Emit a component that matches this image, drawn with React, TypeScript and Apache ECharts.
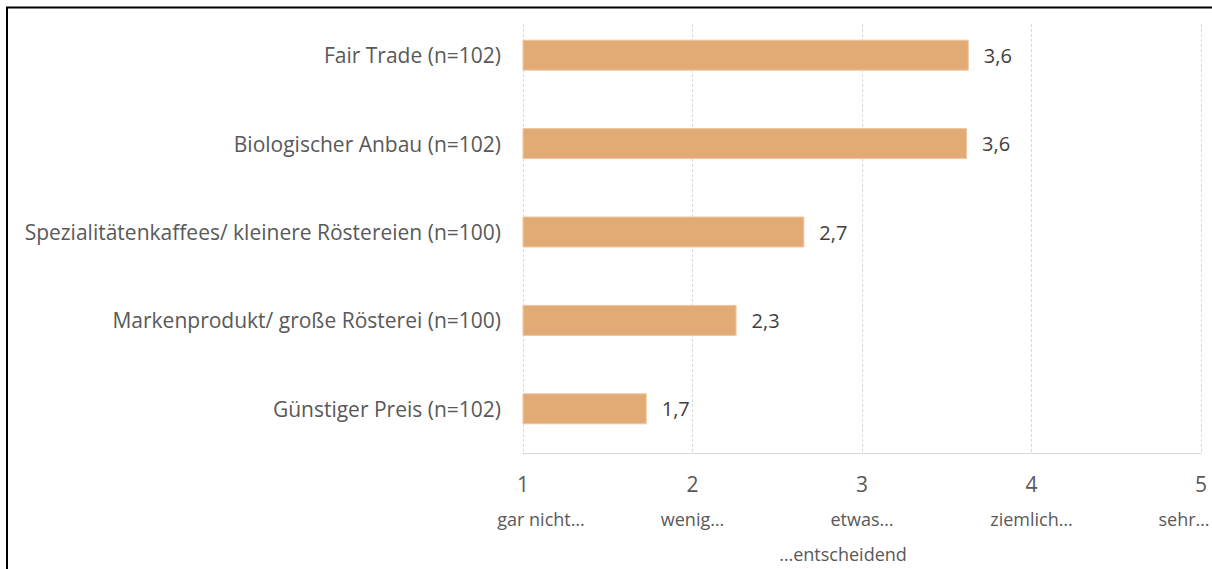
import React, { useEffect, useRef } from "react";
import * as echarts from "echarts";

const categories = [
  "Fair Trade (n=102)",
  "Biologischer Anbau (n=102)",
  "Spezialitätenkaffees/ kleinere Röstereien (n=100)",
  "Markenprodukt/ große Rösterei (n=100)",
  "Günstiger Preis (n=102)",
];
const values = [3.63, 3.62, 2.66, 2.26, 1.73];
const tickNumbers = [1, 2, 3, 4, 5];
const tickTexts = ["gar nicht…", "wenig…", "etwas…", "ziemlich…", "sehr…"];
const axisTitle = "…entscheidend";

const FONT = "Open Sans";

export default function App() {
  const ref = useRef<HTMLDivElement>(null);
  useEffect(() => {
    if (!ref.current) return;
    const chart = echarts.init(ref.current, null, { renderer: "svg" });
    const sub = { fontSize: 18, color: "#595959", lineHeight: 24, fontFamily: FONT };
    chart.setOption({
      animation: false,
      backgroundColor: "#ffffff",
      textStyle: { fontFamily: FONT },
      grid: [
        { left: 523, right: 11, top: 11, bottom: 116, outerBoundsMode: "none", containLabel: false },
        { left: 523, right: 11, top: 24, bottom: 116, outerBoundsMode: "none", containLabel: false },
      ],
      xAxis: [
        {
          gridIndex: 0,
          type: "value",
          min: 1,
          max: 5,
          interval: 1,
          splitLine: { show: false },
          axisTick: { show: false },
          axisLine: { show: true, lineStyle: { color: "#D9D9D9", width: 1 } },
          axisLabel: {
            margin: 8,
            formatter: (v: number) => {
              const i = tickNumbers.indexOf(v);
              if (i < 0) return "";
              const key = i === 0 ? "first" : i === tickNumbers.length - 1 ? "last" : "b";
              return `{a|${v}}\n{${key}|${tickTexts[i]}}`;
            },
            rich: {
              a: { fontSize: 21, color: "#595959", lineHeight: 46, fontFamily: FONT },
              b: sub,
              first: { ...sub, padding: [0, 0, 0, 36] },
              last: { ...sub, padding: [0, 34, 0, 0] },
            },
          },
          name: axisTitle,
          nameLocation: "middle",
          nameGap: 92,
          nameTextStyle: { fontSize: 18, color: "#595959", fontFamily: FONT, padding: [0, 38, 0, 0] },
        },
        {
          gridIndex: 1,
          type: "value",
          min: 1,
          max: 5,
          interval: 1,
          axisLine: { show: false },
          axisTick: { show: false },
          axisLabel: { show: false },
          splitLine: { show: true, lineStyle: { color: "#D9D9D9", type: [3, 2], width: 1 } },
        },
      ],
      yAxis: [
        {
          gridIndex: 0,
          type: "category",
          data: categories,
          inverse: true,
          axisLine: { show: false },
          axisTick: { show: false },
          axisLabel: { margin: 22, fontSize: 21, color: "#595959", fontFamily: FONT },
        },
        {
          gridIndex: 1,
          type: "category",
          data: categories,
          show: false,
        },
      ],
      graphic: [
        { type: "line", shape: { x1: 6, y1: 7.5, x2: 1212, y2: 7.5 }, style: { stroke: "#000", lineWidth: 2 } },
        { type: "line", shape: { x1: 7, y1: 7, x2: 7, y2: 569 }, style: { stroke: "#000", lineWidth: 2 } },
      ],
      series: [
        {
          type: "bar",
          xAxisIndex: 0,
          yAxisIndex: 0,
          data: values,
          barWidth: 31,
          itemStyle: { color: "#E2AA74", borderColor: "#EFC8A0", borderWidth: 1 },
          label: {
            show: true,
            position: "right",
            distance: 15,
            fontSize: 20,
            color: "#404040",
            fontFamily: FONT,
            formatter: (p: any) => p.value.toFixed(1).replace(".", ","),
          },
        },
      ],
    });
    return () => chart.dispose();
  }, []);
  return (
    <div
      ref={ref}
      style={{ position: "fixed", left: 0, top: 0, width: 1212, height: 569 }}
    />
  );
}
